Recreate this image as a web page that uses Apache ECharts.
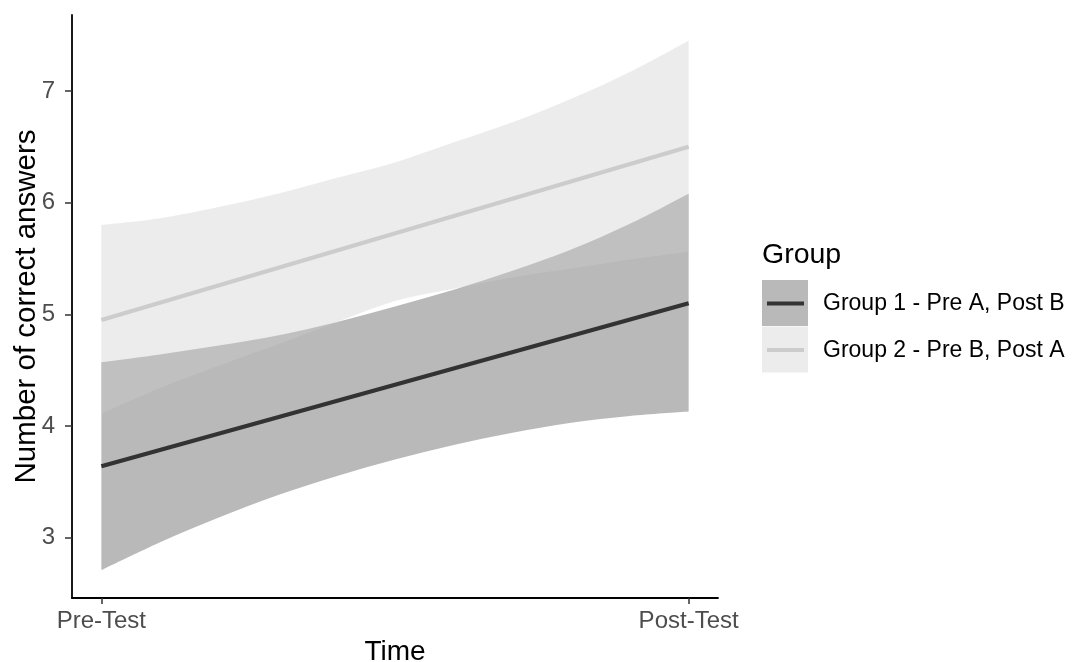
<!DOCTYPE html>
<html>
<head>
<meta charset="utf-8">
<script src="https://cdn.jsdelivr.net/npm/echarts@6/dist/echarts.min.js"></script>
<style>html,body{margin:0;padding:0;background:#fff}#c{width:1072px;height:662px}</style>
</head>
<body>
<div id="c"></div>
<script>
// ---- data ----
const timeLabels = ['Pre-Test', 'Post-Test'];
const timePos = [0, 1];
const yTicks = [3, 4, 5, 6, 7];
const groupNames = ['Group 1 - Pre A, Post B', 'Group 2 - Pre B, Post A'];

// fitted lines (Pre-Test, Post-Test)
const g1Line = [3.64, 5.10];
const g2Line = [4.95, 6.50];

// confidence band, read at t = 0, 0.1, ... 1
const bandT = [0, 0.1, 0.2, 0.3, 0.4, 0.5, 0.6, 0.7, 0.8, 0.9, 1.0];
const g1Lower = [2.71, 2.96, 3.18, 3.38, 3.55, 3.70, 3.83, 3.94, 4.03, 4.09, 4.13];
const g1Upper = [4.57, 4.64, 4.72, 4.81, 4.93, 5.07, 5.22, 5.39, 5.58, 5.81, 6.08];
const g2Lower = [4.11, 4.34, 4.54, 4.73, 4.93, 5.12, 5.23, 5.33, 5.41, 5.49, 5.56];
const g2Upper = [5.80, 5.86, 5.96, 6.08, 6.22, 6.36, 6.54, 6.72, 6.93, 7.17, 7.45];

// ---- styles ----
const g1LineColor = '#333333';
const g2LineColor = '#cccccc';
const g1Fill = 'rgba(51,51,51,0.34)';
const g2Fill = 'rgba(204,204,204,0.38)';
const FONT = '"Liberation Sans", Arial, Helvetica, sans-serif';

// smooth path through screen points (Catmull-Rom -> cubic Bezier)
function splinePath(pts, startCmd) {
  let d = startCmd + pts[0][0] + ' ' + pts[0][1];
  for (let i = 0; i < pts.length - 1; i++) {
    const p0 = pts[Math.max(i - 1, 0)], p1 = pts[i], p2 = pts[i + 1], p3 = pts[Math.min(i + 2, pts.length - 1)];
    const c1 = [p1[0] + (p2[0] - p0[0]) / 6, p1[1] + (p2[1] - p0[1]) / 6];
    const c2 = [p2[0] - (p3[0] - p1[0]) / 6, p2[1] - (p3[1] - p1[1]) / 6];
    d += ' C' + c1[0] + ' ' + c1[1] + ' ' + c2[0] + ' ' + c2[1] + ' ' + p2[0] + ' ' + p2[1];
  }
  return d;
}

function bandSeries(lower, upper, fill, z) {
  return {
    type: 'custom',
    z: z,
    silent: true,
    data: bandT.map((t, i) => [t, lower[i], upper[i]]),
    renderItem: function (params, api) {
      if (params.dataIndex !== 0) return null;
      const up = bandT.map((t, i) => api.coord([t, upper[i]]));
      const lo = bandT.map((t, i) => api.coord([t, lower[i]])).reverse();
      const d = splinePath(up, 'M') + ' ' + splinePath(lo, 'L') + ' Z';
      return { type: 'path', shape: { pathData: d }, style: { fill: fill, stroke: null } };
    }
  };
}

const chart = echarts.init(document.getElementById('c'), null, { renderer: 'canvas' });
const option = {
  backgroundColor: '#ffffff',
  animation: false,
  textStyle: { fontFamily: FONT },
  grid: { left: 72, right: 354, top: 15, bottom: 64, containLabel: false, outerBoundsMode: 'none' },
  xAxis: {
    type: 'value',
    min: -0.05, max: 1.05,
    name: 'Time', nameLocation: 'middle', nameGap: 40, nameMoveOverlap: false,
    nameTextStyle: { fontFamily: FONT, fontSize: 28, color: '#000' },
    axisLine: { show: true, onZero: false, lineStyle: { color: '#000', width: 1.8 } },
    axisTick: { show: true, length: 6, customValues: timePos, lineStyle: { color: '#333', width: 1.5 } },
    axisLabel: {
      customValues: timePos, margin: 11, fontSize: 24, color: '#4d4d4d', fontFamily: FONT,
      formatter: v => timeLabels[timePos.indexOf(v)] || ''
    },
    splitLine: { show: false }
  },
  yAxis: {
    type: 'value',
    min: 2.46, max: 7.68,
    name: 'Number of correct answers', nameLocation: 'middle', nameGap: 30, nameMoveOverlap: false,
    nameTextStyle: { fontFamily: FONT, fontSize: 29.5, color: '#000' },
    axisLine: { show: true, onZero: false, lineStyle: { color: '#000', width: 1.8 } },
    axisTick: { show: true, length: 7, customValues: yTicks, lineStyle: { color: '#333', width: 1.5 } },
    axisLabel: { customValues: yTicks, margin: 17, fontSize: 24, color: '#4d4d4d', fontFamily: FONT },
    splitLine: { show: false }
  },
  series: [
    bandSeries(g1Lower, g1Upper, g1Fill, 1),
    bandSeries(g2Lower, g2Upper, g2Fill, 2),
    {
      type: 'line', name: groupNames[0], z: 3, symbol: 'none', silent: true,
      data: timePos.map((t, i) => [t, g1Line[i]]),
      lineStyle: { color: g1LineColor, width: 4.2, cap: 'butt' }
    },
    {
      type: 'line', name: groupNames[1], z: 3, symbol: 'none', silent: true,
      data: timePos.map((t, i) => [t, g2Line[i]]),
      lineStyle: { color: g2LineColor, width: 4.2, cap: 'butt' }
    }
  ],
  graphic: [
    { type: 'text', x: 762, y: 255, style: { text: 'Group', font: '28.5px ' + FONT, fill: '#000', verticalAlign: 'middle' } },
    { type: 'rect', shape: { x: 762, y: 280, width: 46, height: 46 }, style: { fill: g1Fill } },
    { type: 'line', shape: { x1: 767, y1: 303.5, x2: 804, y2: 303.5 }, style: { stroke: g1LineColor, lineWidth: 4.2 } },
    { type: 'rect', shape: { x: 762, y: 326.5, width: 46, height: 46 }, style: { fill: g2Fill } },
    { type: 'line', shape: { x1: 767, y1: 350, x2: 804, y2: 350 }, style: { stroke: g2LineColor, lineWidth: 4.2 } },
    { type: 'text', x: 823, y: 304, style: { text: groupNames[0], font: '23px ' + FONT, fill: '#000', verticalAlign: 'middle' } },
    { type: 'text', x: 823, y: 351, style: { text: groupNames[1], font: '23px ' + FONT, fill: '#000', verticalAlign: 'middle' } }
  ]
};
chart.setOption(option);
</script>
</body>
</html>
